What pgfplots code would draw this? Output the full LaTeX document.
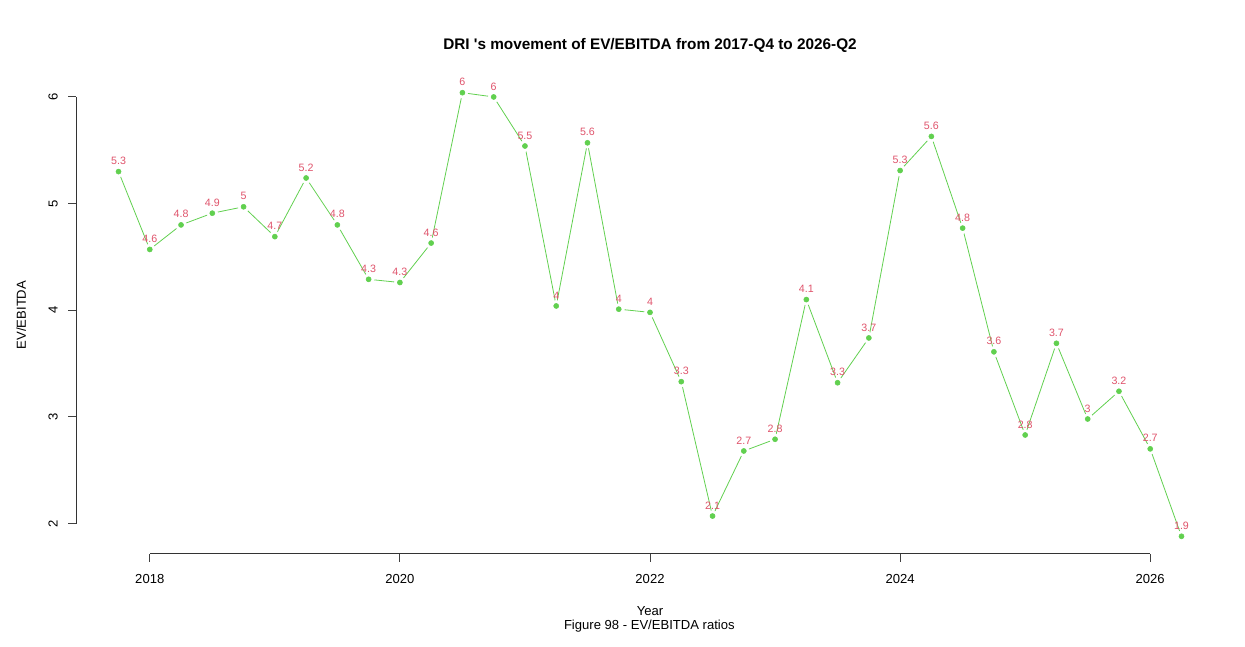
\documentclass[border=0pt]{standalone}
\usepackage{fontspec}
\setmainfont{Liberation Sans}
\usepackage{pgfplots}
\pgfplotsset{compat=1.18}
\usepackage{pgfplotstable}
\definecolor{rgreen}{HTML}{61D04F}
\definecolor{rred}{HTML}{DF536B}
\newcommand\tickfont{\fontsize{9.8}{11}\selectfont}
\newcommand\titlefont{\fontsize{11.5}{13}\selectfont\bfseries}
\newcommand\labfont{\fontsize{8}{9}\selectfont}
\pgfplotstableread{
x y lab
2017.75 5.30 5.3
2018.00 4.57 4.6
2018.25 4.80 4.8
2018.50 4.91 4.9
2018.75 4.97 5
2019.00 4.69 4.7
2019.25 5.24 5.2
2019.50 4.80 4.8
2019.75 4.29 4.3
2020.00 4.26 4.3
2020.25 4.63 4.6
2020.50 6.04 6
2020.75 6.00 6
2021.00 5.54 5.5
2021.25 4.04 4
2021.50 5.57 5.6
2021.75 4.01 4
2022.00 3.98 4
2022.25 3.33 3.3
2022.50 2.07 2.1
2022.75 2.68 2.7
2023.00 2.79 2.8
2023.25 4.10 4.1
2023.50 3.32 3.3
2023.75 3.74 3.7
2024.00 5.31 5.3
2024.25 5.63 5.6
2024.50 4.77 4.8
2024.75 3.61 3.6
2025.00 2.83 2.8
2025.25 3.69 3.7
2025.50 2.98 3
2025.75 3.24 3.2
2026.00 2.70 2.7
2026.25 1.88 1.9
}\data
\begin{document}
\begin{tikzpicture}
\path[use as bounding box] (0,0) rectangle (933.75pt,484.5pt);
\begin{axis}[
  at={(57pt,69pt)}, anchor=south west, scale only axis,
  width=861pt, height=359.25pt,
  xmin=2017.41, xmax=2026.59, ymin=1.714, ymax=6.206,
  axis lines*=left, axis line style={draw=none},
  xtick={2018,2020,2022,2024,2026}, ytick={2,3,4,5,6},
  tick align=outside, major tick length=6pt,
  tick style={black!75, line width=0.75pt},
  minor tick num=0,
  ticklabel style={font=\tickfont, text=black},
  /pgf/number format/1000 sep={}, /pgf/number format/assume math mode=true,
  xticklabel style={yshift=-15.75pt, anchor=base, inner sep=0pt},
  yticklabel style={xshift=-7.8pt, rotate=90, anchor=base, inner sep=0pt},
  clip=false,
]
\draw[black!80, line width=0.75pt] (axis cs:2018,1.714) -- (axis cs:2026,1.714);
\draw[black!80, line width=0.75pt] (axis cs:2017.41,2) -- (axis cs:2017.41,6);
\addplot[color=rgreen, line width=0.6pt, mark=none] table[x=x,y=y] {\data};
\addplot[only marks, mark=*, mark size=4.2pt, mark options={draw=white, fill=white}] table[x=x,y=y] {\data};
\addplot[only marks, mark=*, mark size=1.9pt, color=rgreen,
  nodes near coords, point meta=explicit symbolic,
  nodes near coords style={font=\labfont, text=rred, anchor=base, inner sep=0pt, yshift=5.2pt}]
  table[x=x,y=y,meta=lab] {\data};
\end{axis}
\node[font=\titlefont, anchor=base] at (487.5pt,447pt) {DRI \textquotesingle s movement of EV/EBITDA from 2017-Q4 to 2026-Q2};
\node[font=\tickfont, anchor=base] at (487.5pt,23.25pt) {Year};
\node[font=\tickfont, anchor=base] at (487pt,12.75pt) {Figure 98 - EV/EBITDA ratios};
\node[font=\tickfont, anchor=base, rotate=90] at (19.5pt,248.25pt) {EV/EBITDA};
\end{tikzpicture}
\end{document}
